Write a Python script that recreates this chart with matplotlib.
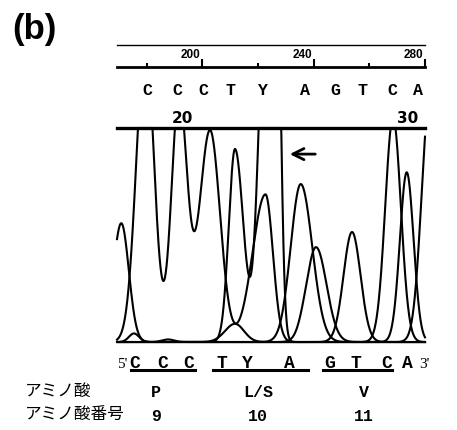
import numpy as np
import matplotlib
matplotlib.use("Agg")
from matplotlib import pyplot as plt
from matplotlib import transforms
from matplotlib.lines import Line2D

# ---- data (x in scan units of the top ruler, y: 1000 = clipped top) ----
x_range = (169.4, 276.5)
ruler_major = [200, 240, 280]
ruler_minor = [180, 220, 260]

base_calls = ["C", "C", "C", "T", "Y", "A", "G", "T", "C", "A"]
base_call_scan = [179.8, 190.3, 199.6, 209.0, 219.8, 234.8, 245.2, 254.6, 265.0, 274.1]
base_numbers = ["20", "30"]
base_number_scan = [192.0, 270.6]

# peaks: center, height, left width, right width
c_center = [179.30, 190.96, 201.74, 221.04, 265.39]
c_height = [1400, 1150, 990, 690, 1050]
c_wl = [3.18, 2.61, 3.65, 4.52, 2.71]
c_wr = [2.96, 2.82, 3.48, 2.57, 2.71]

t_center = [210.43, 220.52, 224.35, 251.13]
t_height = [902, 1300, 2500, 514]
t_wl = [2.16, 2.26, 2.09, 2.96]
t_wr = [2.89, 2.26, 1.57, 2.96]

a_center = [170.89, 210.43, 233.29, 270.15]
a_height = [555, 85, 738, 793]
a_wl = [2.78, 3.48, 3.48, 2.37]
a_wr = [2.61, 3.13, 4.00, 2.37]

g_center = [175.30, 187.13, 233.74, 238.61, 274.78, 278.26]
g_height = [40, 12, 12, 443, 15, 1150]
g_wl = [1.74, 2.09, 1.74, 3.30, 1.74, 2.85]
g_wr = [1.74, 2.09, 1.74, 3.65, 1.74, 2.85]

arrow_scan = (239.3, 228.5)
arrow_level = 878

seq_5to3 = base_calls
amino_acids = ["P", "L/S", "V"]
amino_numbers = ["9", "10", "11"]

# ---- layout (pixels of a 457x431 picture) ----
W, H = 457, 431
fig = plt.figure(figsize=(W / 100, H / 100), dpi=100)


def fx(px):
    return px / W


def fy(py):
    return 1 - py / H


mono = "Liberation Mono"
jp = ["Noto Sans CJK JP", "DejaVu Sans"]

ax = fig.add_axes([fx(117), fy(343), (425 - 117) / W, (343 - 129) / H])
xs = np.linspace(x_range[0], x_range[1], 1500)


def trace(centers, heights, wl, wr):
    y = np.zeros_like(xs)
    for c, h, a, b in zip(centers, heights, wl, wr):
        w = np.where(xs < c, a, b)
        y += h * np.exp(-0.5 * ((xs - c) / w) ** 2)
    return np.minimum(y, 1000)


for cen, hei, wl, wr in [(c_center, c_height, c_wl, c_wr),
                         (t_center, t_height, t_wl, t_wr),
                         (a_center, a_height, a_wl, a_wr),
                         (g_center, g_height, g_wl, g_wr)]:
    ax.plot(xs, trace(cen, hei, wl, wr), color="k", lw=1.5, clip_on=False)

ax.set_xlim(*x_range)
ax.set_ylim(0, 1000)
ax.set_xticks([])
ax.set_yticks([])
ax.spines["left"].set_visible(False)
ax.spines["right"].set_visible(False)
ax.spines["top"].set_linewidth(2.4)
ax.spines["bottom"].set_linewidth(1.0)
ax.annotate("", xy=(arrow_scan[1], arrow_level), xytext=(arrow_scan[0], arrow_level),
            arrowprops=dict(arrowstyle="->", lw=2, color="k", mutation_scale=20))

# top ruler
axt = fig.add_axes([fx(117), fy(68), (425 - 117) / W, (68 - 46) / H])
axt.set_xlim(*x_range)
axt.set_ylim(0, 1)
axt.set_yticks([])
axt.set_xticks(ruler_major)
axt.set_xticks(ruler_minor, minor=True)
axt.tick_params(axis="x", which="major", direction="in", length=6, width=1.5, labelbottom=False)
axt.tick_params(axis="x", which="minor", direction="in", length=3, width=1.5)
axt.spines["left"].set_visible(False)
axt.spines["right"].set_visible(False)
axt.spines["bottom"].set_linewidth(2)
axt.spines["top"].set_linewidth(1)
for t in ruler_major:
    axt.text(t - 0.6, 0.45, str(t), ha="right", va="baseline", fontsize=8.5,
             fontweight="bold", family="Liberation Sans",
             transform=transforms.blended_transform_factory(axt.transData, axt.transAxes),
             clip_on=True)

blend = transforms.blended_transform_factory(ax.transData, fig.transFigure)
for b, x in zip(base_calls, base_call_scan):
    fig.text(x, fy(95), b, transform=blend, ha="center", va="baseline",
             family=mono, fontweight="bold", fontsize=12)
for n, x in zip(base_numbers, base_number_scan):
    fig.text(x, fy(123), n, transform=blend, ha="center", va="baseline",
             fontweight="bold", fontsize=11)

fig.text(fx(12), fy(30), "(b)", ha="left", va="center", fontsize=25,
         fontweight="bold", family="Liberation Sans")

# sequence under the trace
seq_px = [135, 163, 189, 222, 247, 289, 330, 356, 387, 407]
for b, x in zip(seq_5to3, seq_px):
    fig.text(fx(x), fy(368), b, ha="center", va="baseline",
             family=mono, fontweight="bold", fontsize=13)
fig.text(fx(122), fy(368), "5'", ha="center", va="baseline", family="Liberation Serif", fontsize=11)
fig.text(fx(424), fy(368), "3'", ha="center", va="baseline", family="Liberation Serif", fontsize=11)

codon_spans = [(131, 195), (213, 308), (323, 392)]
for x0, x1 in codon_spans:
    fig.add_artist(Line2D([fx(x0), fx(x1)], [fy(371)] * 2, transform=fig.transFigure,
                          lw=2.2, color="k"))

codon_px = [156, 258, 364]
fig.text(fx(25), fy(391.5), "アミノ酸", ha="left", va="center", family=jp, fontsize=12)
fig.text(fx(25), fy(414.5), "アミノ酸番号", ha="left", va="center", family=jp, fontsize=12)
for a, n, x in zip(amino_acids, amino_numbers, codon_px):
    fig.text(fx(x), fy(397), a, ha="center", va="baseline", family=mono,
             fontweight="bold", fontsize=12)
    fig.text(fx(x), fy(421), n, ha="center", va="baseline", family=mono,
             fontweight="bold", fontsize=12)

fig.savefig("out.png", dpi=100, facecolor="white")
